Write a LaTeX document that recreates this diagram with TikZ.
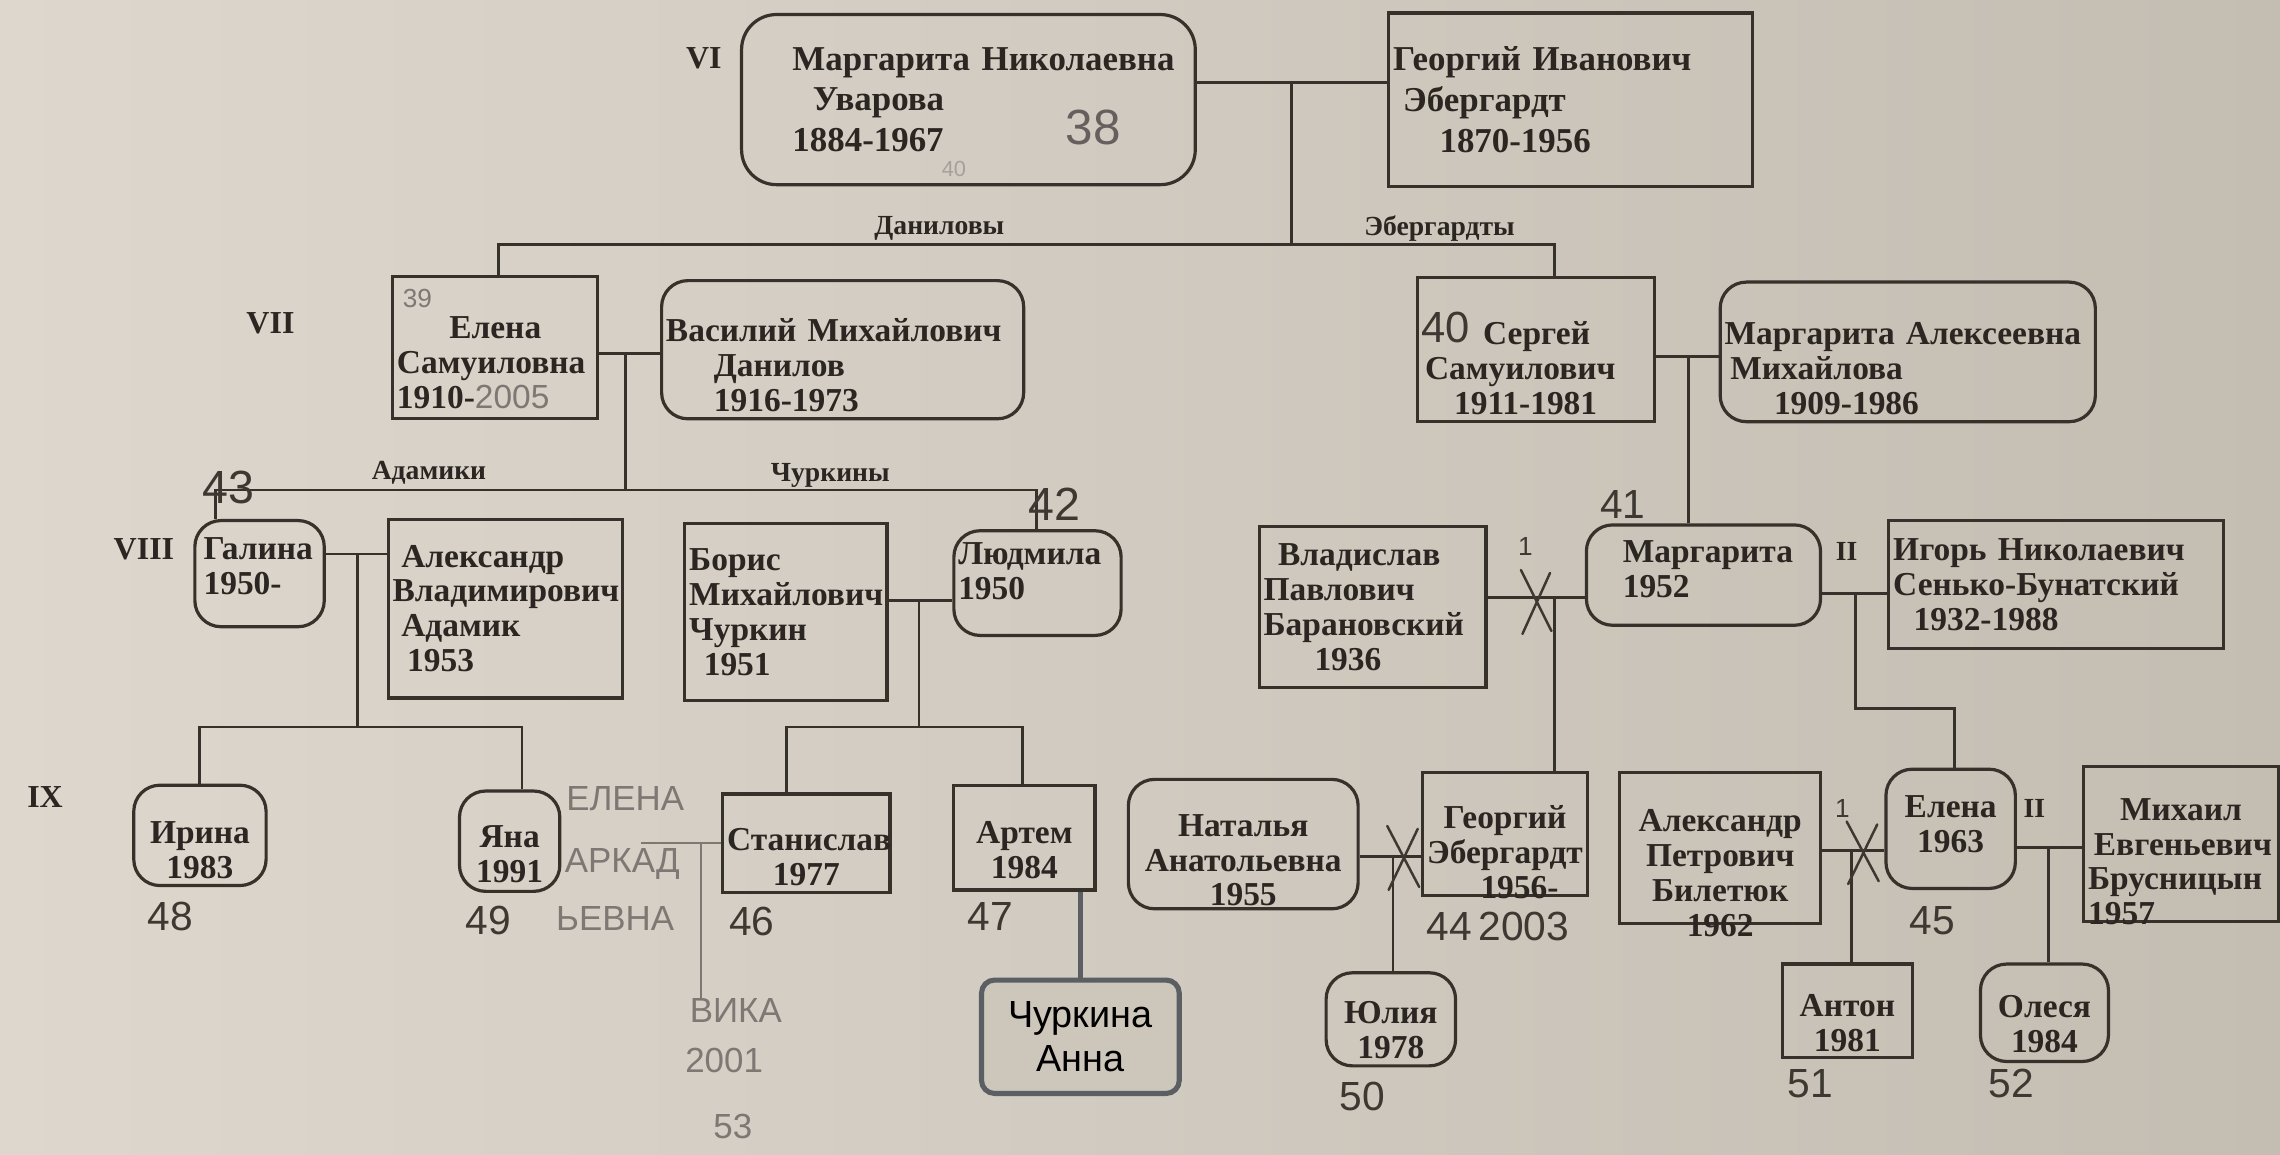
\documentclass[tikz,border=0pt]{standalone}
\usepackage{fontspec}
\setmainfont{Liberation Serif}
\newfontfamily\handfont{Liberation Sans}
\newfontfamily\modernfont{Liberation Sans}
\usetikzlibrary{calc}
\definecolor{paperL}{HTML}{DDD7CE}
\definecolor{paperR}{HTML}{C4BDB2}
\definecolor{paperM}{HTML}{CDC6BB}
\definecolor{ink}{HTML}{2B2622}
\definecolor{lineink}{HTML}{37312C}
\definecolor{pen}{HTML}{3E3833}
\definecolor{pencil}{HTML}{7F7774}
\definecolor{modernline}{HTML}{5B5F63}
\tikzset{
  person/.style={draw=lineink, line width=2.2pt, text=ink, inner xsep=3pt, inner ysep=2pt,
    align=left, font=\bfseries\fontsize{23}{24}\selectfont},
  rperson/.style={person, rounded corners=18pt},
  cperson/.style={person, align=center},
  rcperson/.style={rperson, align=center},
  tlow/.style={text depth=0pt, text height=#1},
  thigh/.style={text height=0pt, text depth=#1},
  link/.style={draw=lineink, line width=2pt},
  divorce/.style={draw=pen, line width=1.7pt, line cap=round},
  handnum/.style={text=pen, inner sep=0pt, font=\handfont\fontsize{28}{28}\selectfont},
  pencilt/.style={text=pencil, inner sep=0pt, font=\handfont\fontsize{24}{24}\selectfont},
  pencilline/.style={draw=pencil, line width=1.5pt},
  gen/.style={text=ink, inner sep=0pt, font=\bfseries\fontsize{22}{22}\selectfont},
  famlabel/.style={text=ink, inner sep=1pt, font=\bfseries\fontsize{19}{19}\selectfont},
  modernbox/.style={draw=modernline, line width=3.5pt, rounded corners=9pt, fill=paperM,
    align=center, text=black, font=\modernfont\fontsize{26}{30}\selectfont},
  modernlink/.style={draw=modernline, line width=3.5pt},
}
\begin{document}
\begin{tikzpicture}[x=1pt,y=-1pt]
\useasboundingbox (0,0) rectangle (1568,794);
\fill[left color=paperL, right color=paperR] (0,0) rectangle (1568,794);

% ---------- generation labels
\node[gen] (gVI) at (484,40) {VI};
\node[gen] (gVII) at (186,222) {VII};
\node[gen] (gVIII) at (99,378) {VIII};
\node[gen] (gIX) at (31,548) {IX};

% ---------- row VI
\node[rperson, rounded corners=24pt, minimum width=312pt, minimum height=117pt, text width=306pt,
  font=\bfseries\fontsize{24}{28}\selectfont] (b1) at (666,68.5)
  {\hspace*{32pt}Маргарита Николаевна\\\hspace*{46pt}Уварова\\\hspace*{32pt}1884-1967};
\node[person, minimum width=250pt, minimum height=119pt, text width=244pt,
  font=\bfseries\fontsize{24}{28}\selectfont] (b2) at (1080,68.5)
  {Георгий Иванович\\\hspace*{7pt}Эбергардт\\\hspace*{32pt}1870-1956};

% ---------- row VII
\node[person, thigh=12pt, minimum width=141pt, minimum height=98pt, text width=135pt] (c1) at (340.5,239)
  {\hspace*{36pt}Елена\\Самуиловна\\1910-{\handfont\mdseries\color{pencil}2005}};
\node[rperson, thigh=11pt, minimum width=249pt, minimum height=95pt, text width=243pt] (c2) at (579.5,240.5)
  {Василий Михайлович\\\hspace*{33pt}Данилов\\\hspace*{33pt}1916-1973};
\node[person, thigh=7pt, minimum width=163pt, minimum height=99pt, text width=157pt] (c3) at (1056.5,240.5)
  {\hspace*{42pt}Сергей\\\hspace*{2pt}Самуилович\\\hspace*{22pt}1911-1981};
\node[rperson, thigh=10pt, minimum width=258pt, minimum height=96pt, text width=252pt] (c4) at (1312,242)
  {Маргарита Алексеевна\\\hspace*{4pt}Михайлова\\\hspace*{34pt}1909-1986};

% ---------- row VIII
\node[rperson, thigh=19pt, minimum width=89pt, minimum height=73pt, text width=83pt] (d1) at (178.5,394.5)
  {\hspace*{3pt}Галина\\\hspace*{3pt}1950-};
\node[person, minimum width=161pt, minimum height=123pt, text width=155pt] (d2) at (347.5,418.5)
  {\hspace*{6pt}Александр\\Владимирович\\\hspace*{6pt}Адамик\\\hspace*{10pt}1953};
\node[person, minimum width=139pt, minimum height=122pt, text width=133pt] (d3) at (540.5,421)
  {Борис\\Михайлович\\Чуркин\\\hspace*{10pt}1951};
\node[rperson, thigh=26pt, minimum width=115pt, minimum height=72pt, text width=109pt] (d4) at (713.5,401)
  {Людмила\\1950};
\node[person, minimum width=156pt, minimum height=111pt, text width=150pt] (d5) at (944,417.5)
  {\hspace*{10pt}Владислав\\Павлович\\Барановский\\\hspace*{35pt}1936};
\node[rperson, thigh=17pt, minimum width=161pt, minimum height=69pt, text width=155pt] (d6) at (1171.5,395.5)
  {\hspace*{22pt}Маргарита\\\hspace*{22pt}1952};
\node[person, minimum width=230pt, minimum height=88pt, text width=224pt] (d7) at (1414,402)
  {Игорь Николаевич\\Сенько-Бунатский\\\hspace*{14pt}1932-1988};

% ---------- row IX
\node[rcperson, tlow=11pt, minimum width=91pt, minimum height=69pt, text width=85pt] (e1) at (137.5,574.5) {Ирина\\1983};
\node[rcperson, tlow=9pt, minimum width=69pt, minimum height=69pt, text width=63pt] (e2) at (350.5,578.5) {Яна\\1991};
\node[cperson, tlow=10pt, minimum width=115pt, minimum height=68pt, text width=109pt] (e3) at (554.5,580) {Станислав\\1977};
\node[cperson, tlow=8pt, minimum width=97pt, minimum height=72pt, text width=91pt] (e4) at (704.5,576) {Артем\\1984};
\node[modernbox, minimum width=136pt, minimum height=78pt] (e5) at (743,713) {Чуркина\\Анна};
\node[rcperson, thigh=11pt, minimum width=158pt, minimum height=89pt, text width=152pt] (e6) at (855,580.5) {Наталья\\Анатольевна\\1955};
\node[cperson, thigh=7pt, minimum width=114pt, minimum height=85pt, text width=108pt] (e7) at (1035,573.5) {Георгий\\Эбергардт\\\hspace*{20pt}1956-};
\node[rcperson, tlow=6pt, minimum width=89pt, minimum height=64pt, text width=83pt] (e8) at (956.5,701) {Юлия\\1978};
\node[cperson, thigh=22pt, minimum width=138pt, minimum height=104pt, text width=132pt] (e9) at (1183,583) {Александр\\Петрович\\Билетюк\\1962};
\node[rcperson, thigh=16pt, minimum width=89pt, minimum height=82pt, text width=83pt] (e10) at (1341.5,570) {Елена\\1963};
\node[person, thigh=33pt, minimum width=134pt, minimum height=107pt, text width=128pt] (e11) at (1500,580.5)
  {\hspace*{22pt}Михаил\\\hspace*{4pt}Евгеньевич\\Брусницын\\1957};
\node[cperson, tlow=8pt, minimum width=89pt, minimum height=64pt, text width=83pt] (e12) at (1270.5,695) {Антон\\1981};
\node[rcperson, tlow=7pt, minimum width=88pt, minimum height=67pt, text width=82pt] (e13) at (1406,696.5) {Олеся\\1984};

% ---------- connectors VI -> VII
\coordinate (m0) at (888,57);
\coordinate (t0) at (888,168);
\coordinate (tL) at (343,168);
\coordinate (tR) at (1069,168);
\draw[link] (b1.east |- m0) -- (b2.west |- m0);
\draw[link] (m0) -- (t0);
\draw[link] (c1.north -| tL) -- (tL) -- (tR) -- (c3.north -| tR);
\node[famlabel] (fDan) at (646,157) {Даниловы};
\node[famlabel] (fEb) at (990,157) {Эбергардты};

% ---------- VII -> VIII
\coordinate (m1) at (430,243);
\coordinate (t1) at (430,337);
\coordinate (t1L) at (148,337);
\coordinate (t1R) at (713,337);
\draw[link] (c1.east |- m1) -- (c2.west |- m1);
\draw[link] (m1) -- (t1);
\draw[link] (d1.north -| t1L) -- (t1L) -- (t1R) -- (d4.north -| t1R);
\node[famlabel] (fAd) at (295,325) {Адамики};
\node[famlabel] (fCh) at (571,327) {Чуркины};

\coordinate (m2) at (1161,245);
\draw[link] (c3.east |- m2) -- (c4.west |- m2);
\draw[link] (m2) -- (d6.north -| m2);

% ---------- VIII -> IX
\coordinate (m3) at (246,381);
\coordinate (t3) at (246,500);
\coordinate (t3L) at (137,500);
\coordinate (t3R) at (359,500);
\draw[link] (d1.east |- m3) -- (d2.west |- m3);
\draw[link] (m3) -- (t3);
\draw[link] (e1.north -| t3L) -- (t3L) -- (t3R) -- (e2.north -| t3R);

\coordinate (m4) at (632,413);
\coordinate (t4) at (632,500);
\coordinate (t4L) at (541,500);
\coordinate (t4R) at (703,500);
\draw[link] (d3.east |- m4) -- (d4.west |- m4);
\draw[link] (m4) -- (t4);
\draw[link] (e3.north -| t4L) -- (t4L) -- (t4R) -- (e4.north -| t4R);

\draw[modernlink] (e4.south -| e5.north) -- (e5.north);

\coordinate (m5) at (1069,411);
\draw[link] (d5.east |- m5) -- (d6.west |- m5);
\draw[link] (m5) -- (e7.north -| m5);
\draw[divorce] (1046,392) -- (1067,434) (1066,394) -- (1047,436);
\node[text=pen, inner sep=0pt, font=\handfont\fontsize{18}{18}\selectfont] (dv1) at (1049,376) {1};

\coordinate (m6) at (1276,408);
\coordinate (k6) at (1276,487);
\coordinate (k6b) at (1344,487);
\draw[link] (d6.east |- m6) -- (d7.west |- m6);
\draw[link] (m6) -- (k6) -- (k6b) -- (e10.north -| k6b);
\node[gen, font=\bfseries\fontsize{19}{19}\selectfont] (ii1) at (1270,379) {II};

\coordinate (m7) at (958,589);
\draw[link] (e6.east |- m7) -- (e7.west |- m7);
\draw[link] (m7) -- (e8.north -| m7);
\draw[divorce] (954,568) -- (976,610) (975,570) -- (955,612);

\coordinate (m8) at (1273,585);
\draw[link] (e9.east |- m8) -- (e10.west |- m8);
\draw[link] (m8) -- (e12.north -| m8);
\draw[divorce] (1270,565) -- (1292,606) (1291,567) -- (1271,608);
\node[text=pen, inner sep=0pt, font=\handfont\fontsize{18}{18}\selectfont] (dv2) at (1267,556) {1};

\coordinate (m9) at (1409,583);
\draw[link] (e10.east |- m9) -- (e11.west |- m9);
\draw[link] (m9) -- (e13.north -| m9);
\node[gen, font=\bfseries\fontsize{19}{19}\selectfont] (ii2) at (1399,556) {II};

% ---------- handwritten numbers
\node[handnum, font=\handfont\fontsize{34}{34}\selectfont, text=pencil!80!black] (n38) at (752,88) {38};
\node[handnum, font=\handfont\fontsize{15}{15}\selectfont, text=pencil!70] (n40a) at (656,116) {40};
\node[handnum, font=\handfont\fontsize{18}{18}\selectfont, text=pencil] (n39) at (287,205) {39};
\node[handnum, font=\handfont\fontsize{30}{30}\selectfont] (n40) at (994,225) {40};
\node[handnum, font=\handfont\fontsize{32}{32}\selectfont] (n43) at (157,335) {43};
\node[handnum, font=\handfont\fontsize{32}{32}\selectfont] (n42) at (725,347) {42};
\node[handnum] (n41) at (1116,347) {41};
\node[handnum] (n48) at (117,630) {48};
\node[handnum] (n49) at (336,633) {49};
\node[handnum] (n46) at (517,634) {46};
\node[handnum] (n47) at (681,630) {47};
\node[handnum] (n44) at (1030,637) {44\,2003};
\node[handnum] (n45) at (1329,633) {45};
\node[handnum] (n50) at (937,754) {50};
\node[handnum] (n51) at (1245,745) {51};
\node[handnum] (n52) at (1383,745) {52};

% ---------- pencil notes
\node[pencilt] (p1) at (430,549) {ЕЛЕНА};
\node[pencilt] (p2) at (428,594) {АРКАД};
\node[pencilt] (p3) at (423,632) {ЬЕВНА};
\coordinate (h1) at (441,580);
\coordinate (h2) at (482,580);
\node[pencilt] (vika) at (506,695) {ВИКА};
\node[pencilt] (p5) at (498,729) {2001};
\node[pencilt] (p6) at (504,775) {53};
\draw[pencilline] (h1) -- (e3.west |- h1);
\draw[pencilline] (h2) -- (vika.north -| h2);
\end{tikzpicture}
\end{document}
